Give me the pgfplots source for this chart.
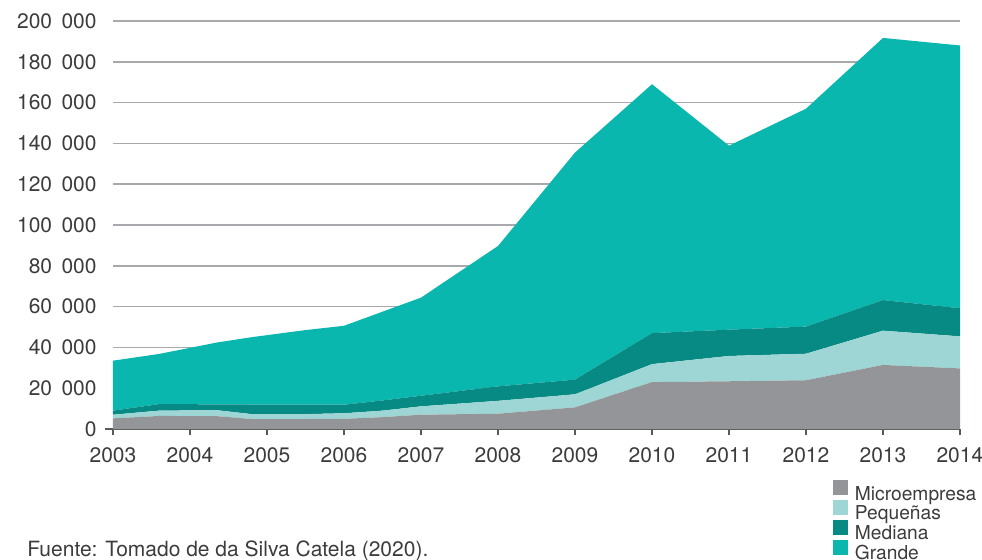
\documentclass[border=0pt]{standalone}
\usepackage{fontspec}
\setmainfont{TeX Gyre Heros}
\usepackage{pgfplots}
\usepackage{pgfplotstable}
\pgfplotsset{compat=1.18}
\definecolor{cMicro}{HTML}{939598}
\definecolor{cPeq}{HTML}{9DD6D4}
\definecolor{cMed}{HTML}{078A84}
\definecolor{cGra}{HTML}{0AB7AF}
\definecolor{cGrid}{HTML}{A7A9AC}
\definecolor{cAxis}{HTML}{58595B}
\definecolor{cText}{HTML}{3C3C3E}

\pgfplotstableread{
x micro peq med gra
2003 5200 1800 2000 24500
2003.6 6400 2600 3200 24600
2004.35 6300 2900 2900 30300
2004.8 4900 2400 4700 33000
2005.5 4900 2400 4700 36500
2006 5000 2700 4200 38700
2006.5 5800 3200 5000 43500
2007 7000 4100 5200 48100
2008 7500 6300 7100 68800
2009 10600 6400 7200 111300
2010 23000 8800 15200 122000
2011 23400 12400 12900 90200
2012 23900 13000 13300 106800
2013 31400 16800 15000 128500
2014 29700 15700 13800 128800
}\data

\begin{document}
\begin{tikzpicture}
\begin{axis}[
  at={(0,0)}, anchor=south west,
  scale only axis, width=423.5bp, height=204bp,
  xmin=2003, xmax=2014, ymin=0, ymax=200000,
  xtick={2003,2004,...,2014},
  ytick={0,20000,...,200000},
  scaled y ticks=false,
  stack plots=y,
  axis x line*=bottom, axis y line*=left,
  x axis line style={-, cAxis, line width=0.75bp, shorten <=-4bp},
  y axis line style={draw=none},
  ymajorgrids, major grid style={cGrid, line width=0.75bp},
  ytick style={draw=none},
  xtick style={cAxis, line width=0.6bp},
  xtick align=outside, major tick length=3bp,
  /pgf/number format/assume math mode=true,
  x tick label style={/pgf/number format/fixed, /pgf/number format/1000 sep={}, font=\fontsize{10.5bp}{12bp}\selectfont, text=cText, anchor=north, inner sep=0pt, yshift=-6bp},
  y tick label style={/pgf/number format/fixed, /pgf/number format/1000 sep={\hspace{0.45em}}, font=\fontsize{10.5bp}{12bp}\selectfont, text=cText, anchor=east, inner sep=0pt, xshift=-8bp},
  legend image code/.code={\fill[#1] (0bp,-0.3bp) rectangle (7.5bp,7.2bp);},
  legend cell align=left,
  legend style={at={(axis description cs:0.850,-0.1257)}, anchor=north west,
    draw=none, fill=none, inner sep=0pt, outer sep=0pt, row sep=-2.45bp, column sep=3.5bp,
    font=\fontsize{9.6bp}{11bp}\selectfont, text=cText,
    nodes={inner sep=0pt, text height=7.85bp, text depth=2.5bp}},
]
\addplot[fill=cMicro, draw=none] table[x=x, y=micro]{\data} \closedcycle;
\addlegendentry{Microempresa}
\addplot[fill=cPeq, draw=none] table[x=x, y=peq]{\data} \closedcycle;
\addlegendentry{Pequeñas}
\addplot[fill=cMed, draw=none] table[x=x, y=med]{\data} \closedcycle;
\addlegendentry{Mediana}
\addplot[fill=cGra, draw=none] table[x=x, y=gra]{\data} \closedcycle;
\addlegendentry{Grande}
\end{axis}
\node[anchor=base west, inner sep=0pt, text=cText, font=\fontsize{10.5bp}{12bp}\selectfont] at (-43bp,-63.5bp) {Fuente: Tomado de da Silva Catela (2020).};
\pgfresetboundingbox
\useasboundingbox (-56.5bp,-65.5bp) rectangle (434.5bp,214.5bp);
\end{tikzpicture}
\end{document}
